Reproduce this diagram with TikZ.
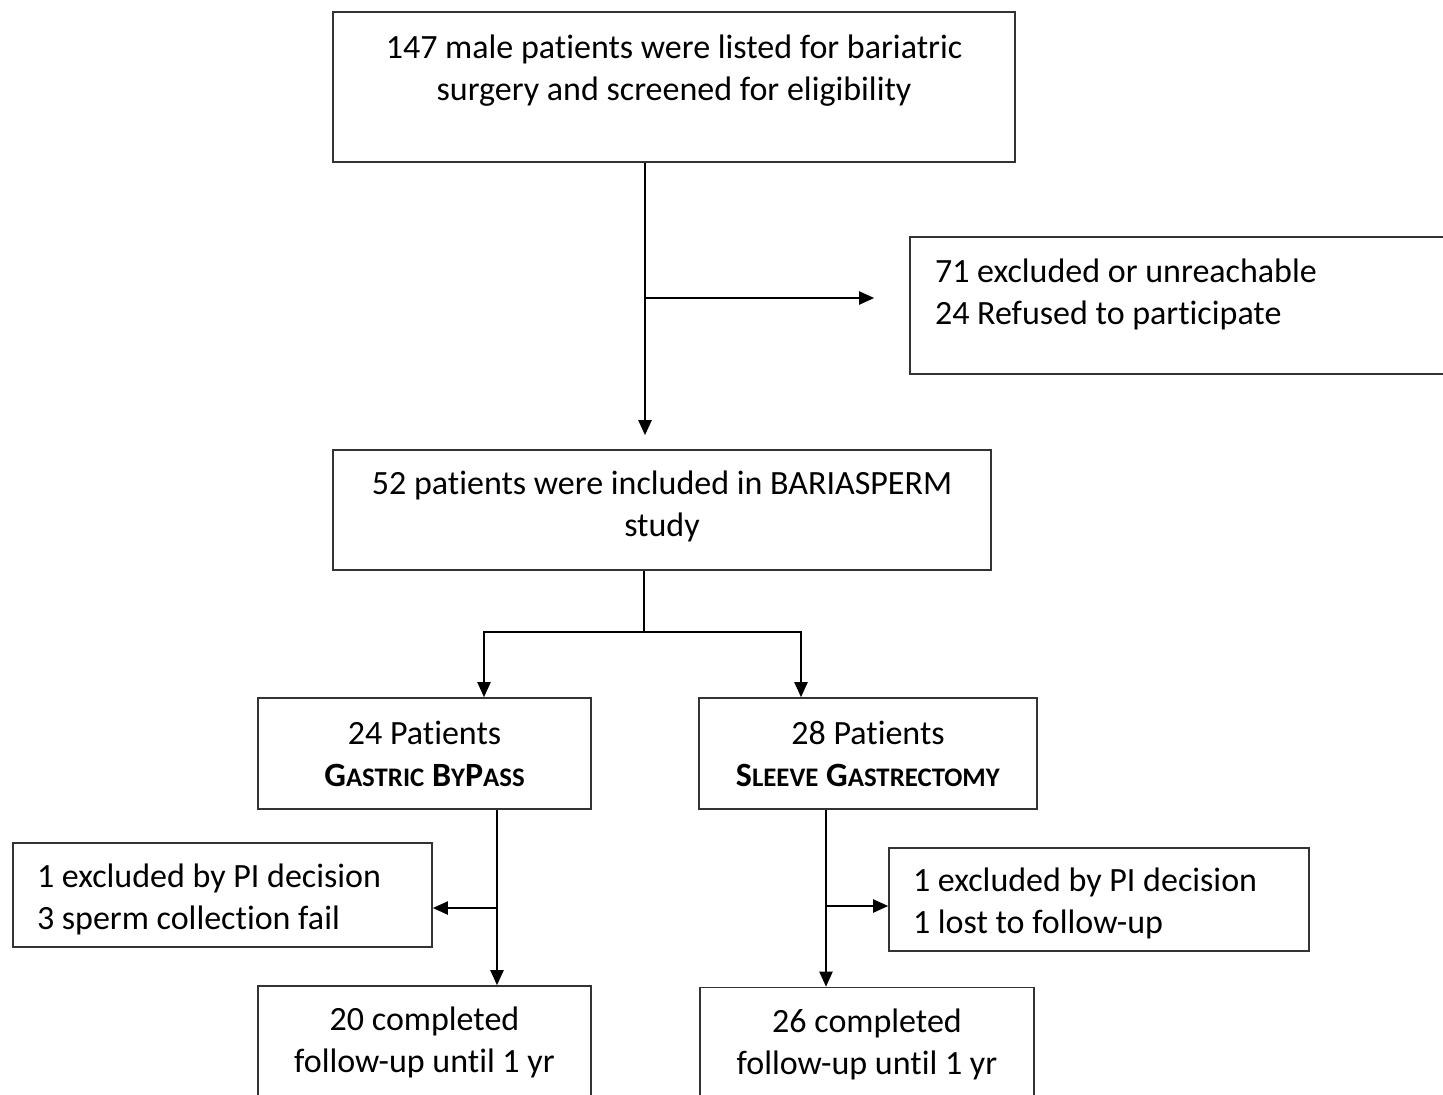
\documentclass[tikz,border=0pt]{standalone}
\usepackage{fontspec}
\setmainfont{Carlito}[Ligatures=NoCommon]
\usetikzlibrary{positioning,arrows.meta,calc}
\newcommand{\smc}[1]{{\fontsize{13.4}{21}\selectfont #1}}

\begin{document}
\begin{tikzpicture}[
  x=0.5pt, y=-0.5pt,
  font=\fontsize{17}{21}\selectfont,
  >={Triangle[length=7.5pt,width=6.5pt]},
  flowbox/.style={rectangle, draw=black!80, line width=0.8pt, inner sep=0pt, align=center},
  sidebox/.style={flowbox, align=flush left, inner xsep=12pt},
  flowline/.style={draw=black, line width=1pt}
]
  \clip (0,0) rectangle (1443,1094);
  \fill[white] (0,0) rectangle (1443,1094);

  \node[flowbox, minimum width=341pt, minimum height=75pt, text depth=19pt] (screened) at (674,87) {147 male patients were listed for bariatric\\surgery and screened for eligibility};
  \node[sidebox, text width=250pt, inner xsep=12.5pt, minimum height=68.5pt, text depth=35pt] (excluded) at (1185,305.5) {71 excluded or unreachable\\24 Refused to participate};
  \node[flowbox, minimum width=329pt, minimum height=60pt, text depth=6.5pt] (included) at (662,510) {52 patients were included in BARIASPERM\\study};
  \node[flowbox, minimum width=166.5pt, minimum height=55.5pt] (bypass) at (424.5,753.5) {24 Patients\\\textbf{G\smc{ASTRIC} B\smc{Y}P\smc{ASS}}};
  \node[flowbox, minimum width=169pt, minimum height=55.5pt] (sleeve) at (868,753.5) {28 Patients\\\textbf{S\smc{LEEVE} G\smc{ASTRECTOMY}}};
  \node[sidebox, text width=185.5pt, minimum height=52pt, text depth=19pt] (bypassout) at (222.5,895) {1 excluded by PI decision\\3 sperm collection fail};
  \node[sidebox, text width=186pt, minimum height=51.5pt, text depth=19.5pt] (sleeveout) at (1099,899.5) {1 excluded by PI decision\\1 lost to follow-up};
  \node[flowbox, minimum width=166.5pt, minimum height=56pt] (bypassdone) at (424.5,1042) {20 completed\\follow-up until 1 yr};
  \node[flowbox, minimum width=167pt, minimum height=57pt] (sleevedone) at (867,1044.5) {26 completed\\follow-up until 1 yr};

  \coordinate (screensplit) at (645,298);
  \coordinate (fork) at (644,632);
  \coordinate (forkleft) at (484,632);
  \coordinate (forkright) at (801,632);
  \coordinate (bypasssplit) at (497,908);
  \coordinate (sleevesplit) at (826,906);

  \draw[flowline,->,shorten >=7pt] (screened.south -| screensplit) -- (included.north -| screensplit);
  \draw[flowline,->,shorten >=17.5pt] (screensplit) -- (excluded.west |- screensplit);
  \draw[flowline] (included.south -| fork) -- (fork);
  \draw[flowline,->] (fork) -- (forkleft) -- (bypass.north -| forkleft);
  \draw[flowline,->] (fork) -- (forkright) -- (sleeve.north -| forkright);
  \draw[flowline,->] (bypass.south -| bypasssplit) -- (bypassdone.north -| bypasssplit);
  \draw[flowline,->] (bypasssplit) -- (bypassout.east |- bypasssplit);
  \draw[flowline,->] (sleeve.south -| sleevesplit) -- (sleevedone.north -| sleevesplit);
  \draw[flowline,->] (sleevesplit) -- (sleeveout.west |- sleevesplit);
\end{tikzpicture}
\end{document}
